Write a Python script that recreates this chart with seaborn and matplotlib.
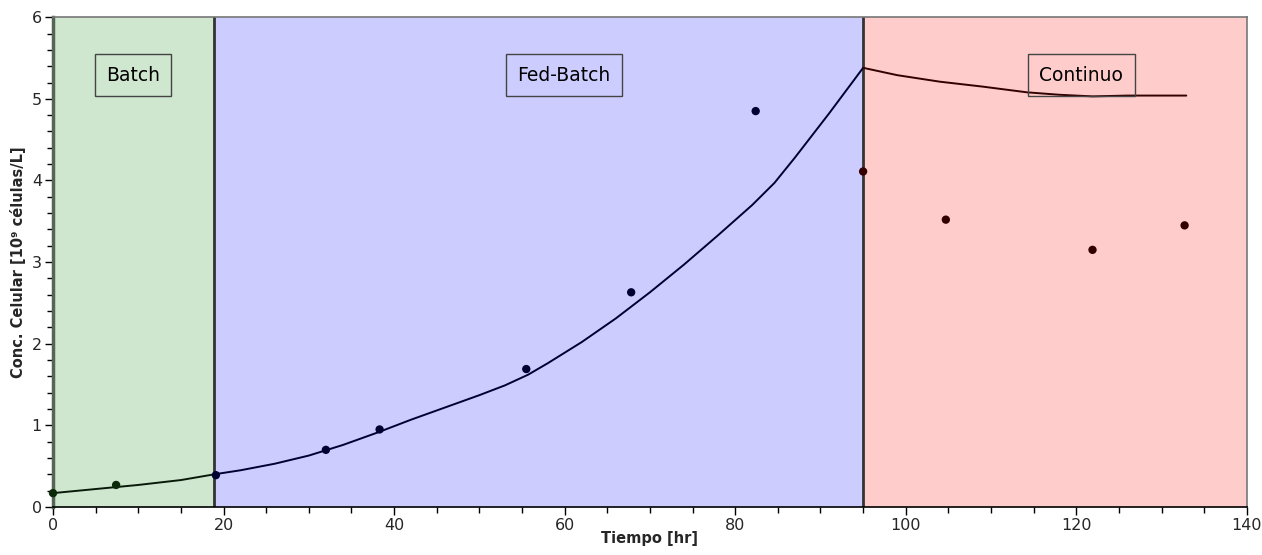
import matplotlib
matplotlib.use("Agg")
import matplotlib.pyplot as plt
import seaborn as sns
from matplotlib.ticker import MultipleLocator

# Phase boundaries
phase_names = ["Batch", "Fed-Batch", "Continuo"]
phase_edges = [0, 18.9, 95.0, 140]
phase_colors = ["#cfe6cf", "#ccccff", "#ffcccc"]

# Experimental points
exp_t_batch = [0.0, 7.4]
exp_x_batch = [0.17, 0.27]
exp_t_fed = [19.1, 32.0, 38.3, 55.5, 67.8, 82.4]
exp_x_fed = [0.39, 0.70, 0.95, 1.69, 2.63, 4.85]
exp_t_cont = [95.0, 104.7, 121.9, 132.7]
exp_x_cont = [4.11, 3.52, 3.15, 3.45]

# Model curves
mod_t_batch = [0.0, 5, 10, 15, 18.9]
mod_x_batch = [0.17, 0.22, 0.27, 0.33, 0.40]
mod_t_fed = [18.9, 22, 26, 30, 34, 38, 42, 46, 50, 53, 55.7, 58, 62, 66, 70, 74, 78, 82,
             84.6, 87, 89, 91, 93, 95.0]
mod_x_fed = [0.40, 0.45, 0.53, 0.63, 0.76, 0.91, 1.07, 1.22, 1.37, 1.49, 1.62, 1.76, 2.02,
             2.31, 2.63, 2.97, 3.33, 3.70, 3.97, 4.28, 4.55, 4.82, 5.10, 5.38]
mod_t_cont = [95.0, 99, 104, 109, 114.2, 118, 121.9, 126, 132.9]
mod_x_cont = [5.38, 5.29, 5.21, 5.15, 5.08, 5.05, 5.03, 5.04, 5.04]

sns.set_style("ticks")
plt.rcParams['font.family'] = ['DejaVu Sans']

fig = plt.figure(figsize=(12.62, 5.55), dpi=100)
ax = fig.add_axes([0.042, 0.0865, 0.946, 0.8825])

for i, name in enumerate(phase_names):
    ax.axvspan(phase_edges[i], phase_edges[i + 1], color=phase_colors[i], lw=0, zorder=0)
for b in phase_edges[1:3]:
    ax.axvline(b, color="#333333", lw=2, zorder=1)

line_cols = ["#0a1a0a", "#000033", "#330000"]
for t, x, c in [(mod_t_batch, mod_x_batch, line_cols[0]),
                (mod_t_fed, mod_x_fed, line_cols[1]),
                (mod_t_cont, mod_x_cont, line_cols[2])]:
    sns.lineplot(x=t, y=x, ax=ax, color=c, lw=1.4, zorder=3, estimator=None, sort=False)

for t, x, c in [(exp_t_batch, exp_x_batch, "#0a2a0a"),
                (exp_t_fed, exp_x_fed, "#000033"),
                (exp_t_cont, exp_x_cont, "#330000")]:
    sns.scatterplot(x=t, y=x, ax=ax, color=c, s=36, edgecolor="none", zorder=4, clip_on=False)

box_x = [9.4, 59.9, 120.6]
box_y = 5.29
for bx, name in zip(box_x, phase_names):
    ax.text(bx, box_y, name, ha="center", va="center", fontsize=13.5, color="black",
            bbox=dict(boxstyle="square,pad=0.6", fc="none", ec="#444444", lw=1), zorder=5)

ax.set_xlim(0, 140)
ax.set_ylim(0, 6)
ax.xaxis.set_major_locator(MultipleLocator(20))
ax.xaxis.set_minor_locator(MultipleLocator(5))
ax.yaxis.set_major_locator(MultipleLocator(1))
ax.yaxis.set_minor_locator(MultipleLocator(0.2))
ax.tick_params(which="major", length=6, width=1, labelsize=11.5, color="black", pad=2)
ax.tick_params(which="minor", length=4, width=1, color="black")

ax.set_xlabel("Tiempo [hr]", fontsize=10.5, fontweight="bold")
ax.set_ylabel("Conc. Celular [10⁹ células/L]", fontsize=10.5, fontweight="bold")
ax.xaxis.set_label_coords(0.5, -0.05)
ax.yaxis.set_label_coords(-0.023, 0.5)

for s in ["top", "right"]:
    ax.spines[s].set_color("#777777")
    ax.spines[s].set_linewidth(1.2)
ax.spines["left"].set_color("#556655")
ax.spines["left"].set_linewidth(2.5)
ax.spines["bottom"].set_color("black")
ax.spines["bottom"].set_linewidth(1.2)

fig.savefig("out.png", dpi=100)
